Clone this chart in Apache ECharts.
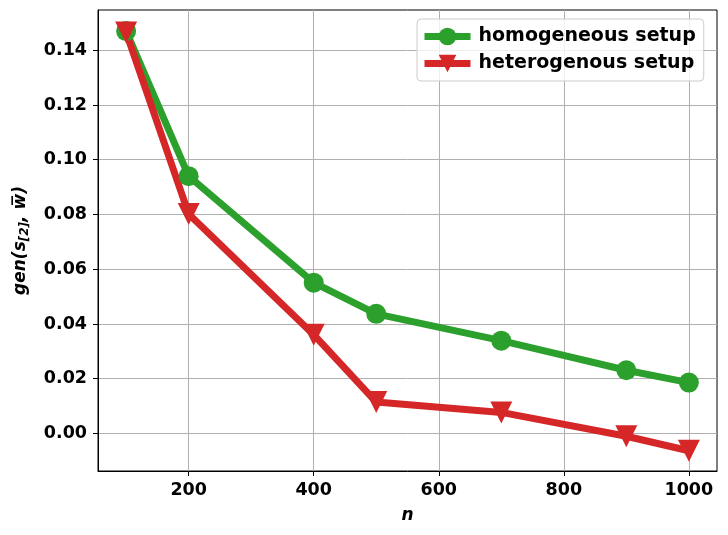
<!DOCTYPE html>
<html><head><meta charset="utf-8">
<script src="https://cdn.jsdelivr.net/npm/echarts@6/dist/echarts.min.js"></script>
<style>html,body{margin:0;padding:0;background:#fff}#c{width:728px;height:535px}</style>
</head><body><div id="c"></div>
<script>
const nValues = [100, 200, 400, 500, 700, 900, 1000];
const homogeneous = [0.147, 0.094, 0.0551, 0.0437, 0.0339, 0.0231, 0.0186];
const heterogenous = [0.1465, 0.0802, 0.0361, 0.0115, 0.0077, -0.0010, -0.0063];
const xTicks = [200, 400, 600, 800, 1000];
const yTicks = [0.00, 0.02, 0.04, 0.06, 0.08, 0.10, 0.12, 0.14];

const font = 'DejaVu Sans';
const chart = echarts.init(document.getElementById('c'), null, {renderer: 'canvas'});
const pairs = a => nValues.map((x, i) => [x, a[i]]);
chart.setOption({
  animation: false,
  backgroundColor: '#fff',
  grid: {left: 98, right: 11, top: 10, bottom: 64, show: true, borderColor: '#000', borderWidth: 1, backgroundColor: 'transparent'},
  legend: {
    left: 417, top: 19, orient: 'vertical', itemGap: 8, itemWidth: 46, itemHeight: 22,
    padding: [8, 8, 8, 4],
    backgroundColor: 'rgba(255,255,255,0.8)', borderColor: '#cccccc', borderWidth: 1, borderRadius: 4,
    textStyle: {fontFamily: font, fontWeight: 'bold', fontSize: 19, color: '#000', padding: [0, 0, 0, 3]},
    lineStyle: {width: 7},
    data: ['homogeneous setup', 'heterogenous setup']
  },
  xAxis: {
    type: 'value', min: 55, max: 1045,
    name: 'n', nameLocation: 'middle', nameGap: 36,
    nameTextStyle: {fontFamily: font, fontWeight: 'bold', fontStyle: 'italic', fontSize: 17, color: '#000'},
    axisLine: {show: true, onZero: false, lineStyle: {color: '#000', width: 1}},
    axisTick: {show: true, length: 5, lineStyle: {color: '#000'}, customValues: xTicks},
    axisLabel: {customValues: xTicks, fontFamily: font, fontWeight: 'bold', fontSize: 17.5, color: '#000', margin: 10,
      formatter: v => String(v)},
    splitLine: {show: true, lineStyle: {color: '#b0b0b0', width: 1}}
  },
  yAxis: {
    type: 'value', min: -0.0137, max: 0.1547,
    name: '{a|gen(s}{b|[2]}{a|, w\u0305)}', nameLocation: 'middle', nameGap: 67, nameRotate: 90,
    nameTextStyle: {
      rich: {
        a: {fontFamily: font, fontWeight: 'bold', fontStyle: 'italic', fontSize: 17, color: '#000'},
        b: {fontFamily: font, fontWeight: 'bold', fontStyle: 'italic', fontSize: 12, color: '#000', verticalAlign: 'bottom', padding: [8, 0, 0, 0]}
      }
    },
    axisLine: {show: true, lineStyle: {color: '#000', width: 1}},
    axisTick: {show: true, length: 5, lineStyle: {color: '#000'}, customValues: yTicks},
    axisLabel: {customValues: yTicks, fontFamily: font, fontWeight: 'bold', fontSize: 17.5, color: '#000', margin: 11,
      formatter: v => v.toFixed(2)},
    splitLine: {show: true, lineStyle: {color: '#b0b0b0', width: 1}}
  },
  series: [
    {name: 'homogeneous setup', type: 'line', data: pairs(homogeneous),
     symbol: 'circle', symbolSize: 20, lineStyle: {width: 7, color: '#2ca02c'}, itemStyle: {color: '#2ca02c'}},
    {name: 'heterogenous setup', type: 'line', data: pairs(heterogenous),
     symbol: 'path://M0,0 L2,0 L1,2 Z', symbolSize: 22, lineStyle: {width: 7, color: '#d62728'}, itemStyle: {color: '#d62728'}}
  ]
});
</script></body></html>
